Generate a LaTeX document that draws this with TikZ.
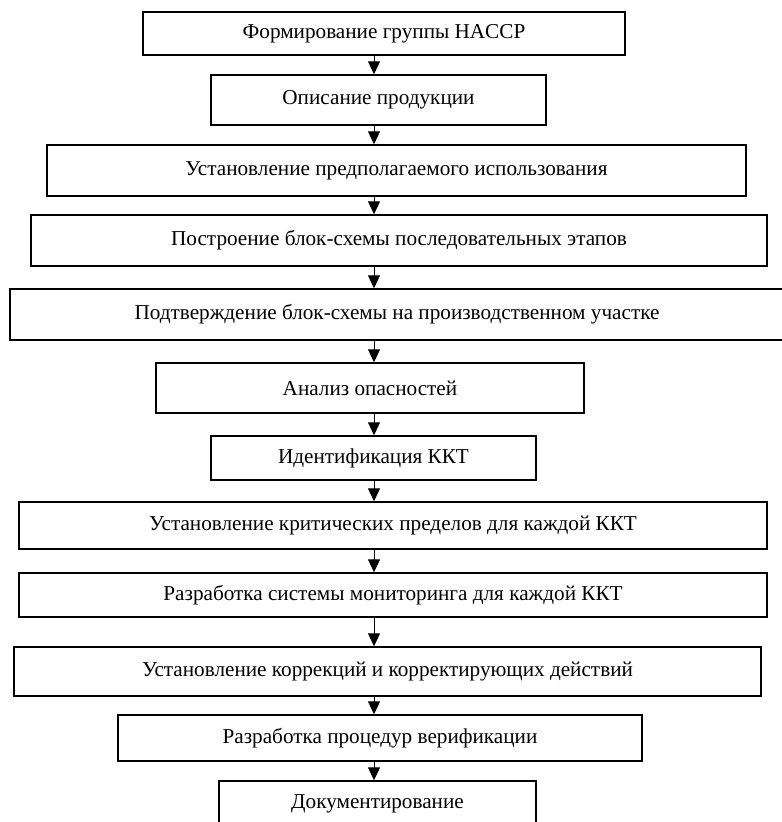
\documentclass[tikz,border=0pt]{standalone}
\usepackage{fontspec}
\setmainfont{Liberation Serif}
\usetikzlibrary{arrows.meta}

\begin{document}
\begin{tikzpicture}[x=0.5pt,y=-0.5pt,
  stage/.style={draw,line width=0.7pt,inner sep=0pt,font=\fontsize{10.6}{13}\selectfont},
  flow/.style={line width=0.5pt,-{Triangle[length=6.5pt,width=6pt]}}]

  % Fix the page to the size of the scan
  \useasboundingbox (0,0) rectangle (781,822);

  % Draw the stages at their centres, sized as in the image
  \node[stage,minimum width=241pt,minimum height=21.5pt] (form) at (384,33.5) {Формирование группы HACCP};
  \node[stage,minimum width=167.5pt,minimum height=25pt] (descr) at (378.5,100) {Описание продукции};
  \node[stage,minimum width=349.5pt,minimum height=25.5pt] (use) at (396.5,170.5) {Установление предполагаемого использования};
  \node[stage,minimum width=368pt,minimum height=25.5pt] (chart) at (399,240.5) {Построение блок-схемы последовательных этапов};
  \node[stage,minimum width=387pt,minimum height=25.5pt] (confirm) at (397,314.5) {Подтверждение блок-схемы на производственном участке};
  \node[stage,minimum width=214pt,minimum height=25pt] (hazard) at (370,388) {Анализ опасностей};
  \node[stage,minimum width=162.5pt,minimum height=22pt] (ccp) at (373.5,458) {Идентификация ККТ};
  \node[stage,minimum width=374pt,minimum height=23.5pt] (limits) at (393,525.5) {Установление критических пределов для каждой ККТ};
  \node[stage,minimum width=374pt,minimum height=22pt] (monitor) at (393,595) {Разработка системы мониторинга для каждой ККТ};
  \node[stage,minimum width=373.5pt,minimum height=24.5pt] (correct) at (387.5,671.5) {Установление коррекций и корректирующих действий};
  \node[stage,minimum width=262pt,minimum height=23pt] (verify) at (380,738) {Разработка процедур верификации};
  \node[stage,minimum width=158.5pt,minimum height=22.5pt] (docs) at (377.5,803.5) {Документирование};

  % All arrows run down one common axis
  \coordinate (axis) at (374,0);

  % Draw the arrows from each stage to the next
  \foreach \a/\b in {form/descr,descr/use,use/chart,chart/confirm,confirm/hazard,
    hazard/ccp,ccp/limits,limits/monitor,monitor/correct,correct/verify,verify/docs}
    \draw[flow] (\a.south -| axis) -- (\b.north -| axis);

\end{tikzpicture}
\end{document}
